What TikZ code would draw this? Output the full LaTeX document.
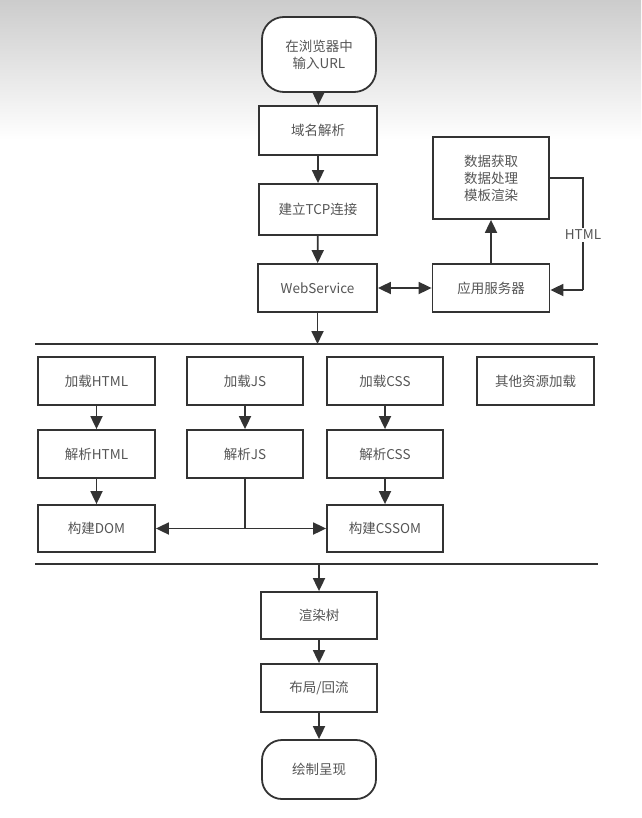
\documentclass[tikz,border=0pt]{standalone}
\usepackage{fontspec}
\setmainfont{Noto Sans CJK SC}
\usetikzlibrary{arrows.meta}
\definecolor{txt}{HTML}{555555}
\definecolor{ln}{HTML}{333333}
\tikzset{
  box/.style={draw=ln, line width=1.8pt, fill=white, text=txt, font=\fontsize{13.5}{17}\selectfont, align=center, inner sep=0pt},
  term/.style={box, rounded corners=22pt},
  arr/.style={draw=ln, line width=1.8pt, -{Triangle[length=13pt,width=12pt]}},
  darr/.style={draw=ln, line width=1.8pt, {Triangle[length=13pt,width=12pt]}-{Triangle[length=13pt,width=12pt]}},
  sep/.style={draw=ln, line width=1.8pt}
}
\begin{document}
\begin{tikzpicture}[x=1pt,y=-1pt]
\useasboundingbox (0,0) rectangle (641,818);
\fill[white] (0,0) rectangle (641,818);
\shade[top color=black!20, bottom color=white] (0,0) rectangle (641,140);

\node[term, minimum width=114pt, minimum height=75pt] (start) at (319,54.5) {在浏览器中\\输入URL};
\node[box, minimum width=118pt, minimum height=49pt] (dns) at (318,130.5) {域名解析};
\node[box, minimum width=118pt, minimum height=51pt] (tcp) at (318,209.5) {建立TCP连接};
\node[box, minimum width=119pt, minimum height=48pt] (ws) at (317.5,288) {WebService};
\node[box, minimum width=117pt, minimum height=48pt] (app) at (491,288) {应用服务器};
\node[box, minimum width=116pt, minimum height=82pt] (data) at (491,178) {数据获取\\数据处理\\模板渲染};

\coordinate (l1a) at (35,344);
\coordinate (l1b) at (598,344);
\coordinate (l1c) at (317.5,344);
\draw[sep] (l1a) -- (l1b);

\node[box, minimum width=117pt, minimum height=48pt] (lhtml) at (96.5,381) {加载HTML};
\node[box, minimum width=116pt, minimum height=48pt] (ljs) at (245,381) {加载JS};
\node[box, minimum width=116pt, minimum height=48pt] (lcss) at (385,381) {加载CSS};
\node[box, minimum width=117pt, minimum height=48pt] (other) at (535.5,381) {其他资源加载};

\node[box, minimum width=117pt, minimum height=48pt] (phtml) at (96.5,454) {解析HTML};
\node[box, minimum width=116pt, minimum height=48pt] (pjs) at (245,454) {解析JS};
\node[box, minimum width=116pt, minimum height=48pt] (pcss) at (385,454) {解析CSS};

\node[box, minimum width=117pt, minimum height=47pt] (dom) at (96.5,528.5) {构建DOM};
\node[box, minimum width=116pt, minimum height=47pt] (cssom) at (385,528.5) {构建CSSOM};

\coordinate (l2a) at (35,564);
\coordinate (l2b) at (598,564);
\coordinate (l2c) at (319,564);
\draw[sep] (l2a) -- (l2b);

\node[box, minimum width=116pt, minimum height=47pt] (render) at (319,615.5) {渲染树};
\node[box, minimum width=116pt, minimum height=48pt] (layout) at (319,688) {布局/回流};
\node[term, minimum width=114pt, minimum height=59pt, rounded corners=20pt] (paint) at (319,769.5) {绘制呈现};

% connectors
\draw[arr] (start) -- (dns);
\draw[arr] (dns) -- (tcp);
\draw[arr] (tcp) -- (ws);
\draw[darr] (ws) -- (app);
\draw[arr] (app) -- (data);
\coordinate (h1) at (583,178);
\coordinate (h2) at (583,290);
\draw[draw=ln, line width=1.8pt] (data.east |- h1) -- (h1) -- (h2);
\draw[arr] (h2) -- (app.east |- h2);
\node[fill=white, text=txt, font=\fontsize{13.5}{17}\selectfont, inner sep=2pt] (hl) at (583,235) {HTML};
\draw[arr] (ws) -- (l1c);

\draw[arr] (lhtml) -- (phtml);
\draw[arr] (phtml) -- (dom);
\draw[arr] (ljs) -- (pjs);
\draw[arr] (lcss) -- (pcss);
\draw[arr] (pcss) -- (cssom);
\coordinate (j) at (245,528.5);
\draw[draw=ln, line width=1.8pt] (pjs) -- (j);
\draw[arr] (j) -- (dom);
\draw[arr] (j) -- (cssom);

\draw[arr] (l2c) -- (render);
\draw[arr] (render) -- (layout);
\draw[arr] (layout) -- (paint);
\end{tikzpicture}
\end{document}
